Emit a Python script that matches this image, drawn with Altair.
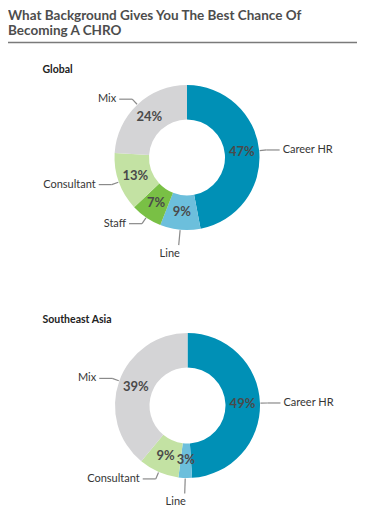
import altair as alt
import pandas as pd

# ---- data ----
title_lines = ["What Background Gives You The Best Chance Of", "Becoming A CHRO"]
panel_titles = ["Global", "Southeast Asia"]

global_categories = ["Career HR", "Line", "Staff", "Consultant", "Mix"]
global_values = [47, 9, 7, 13, 24]

sea_categories = ["Career HR", "Line", "Consultant", "Mix"]
sea_values = [49, 3, 9, 39]

color_domain = ["Career HR", "Line", "Staff", "Consultant", "Mix"]
color_range = ["#0090b6", "#6cbfdc", "#79c045", "#c3e2a3", "#d4d4d6"]

FONT = "Lato"
OY = 8  # top padding inside the svg
W, H = 350, 514 - OY
R_IN, R_OUT = 38, 72.5
R_TXT = 55


def donut(categories, values, cx, cy):
    cy = cy - OY
    df = pd.DataFrame({"category": categories, "value": values,
                       "idx": list(range(len(values)))})
    base = (
        alt.Chart(df)
        .transform_joinaggregate(total="sum(value)")
        .transform_window(cum="sum(value)", sort=[alt.SortField("idx")], frame=[None, 0])
        .transform_calculate(
            t0="2*PI*(datum.cum-datum.value)/datum.total",
            t1="2*PI*datum.cum/datum.total",
            mid="(datum.t0+datum.t1)/2",
            s="sin(datum.mid)",
            c="cos(datum.mid)",
            bottom="abs(datum.s) < 0.35 && datum.c < 0",
            rb="datum.bottom ? 88 : 80",
            ax=f"{cx} + 73*datum.s",
            ay=f"{cy} - 73*datum.c",
            bx=f"{cx} + datum.rb*datum.s",
            by=f"{cy} - datum.rb*datum.c",
            ex="datum.bottom ? datum.bx : datum.bx + (datum.s > 0 ? 13 : -13)",
            ey="datum.by",
            lx="datum.bottom ? datum.bx - 9 : datum.ex + (datum.s > 0 ? 3 : -3)",
            ly="datum.bottom ? datum.by + 3 : datum.ey",
            px=f"{cx} + {R_TXT}*datum.s",
            py=f"{cy} - {R_TXT}*datum.c",
            pct="datum.value + '%'",
        )
    )
    arcs = base.mark_arc(innerRadius=R_IN, outerRadius=R_OUT).encode(
        theta=alt.Theta("t0:Q", scale=None),
        theta2=alt.Theta2("t1:Q"),
        color=alt.Color("category:N", scale=alt.Scale(domain=color_domain, range=color_range),
                        legend=None),
        x=alt.value(cx),
        y=alt.value(cy),
    )
    pct = base.mark_text(font=FONT, fontSize=13, fontWeight="bold", color="#4a4a4a",
                         align="center", baseline="middle").encode(
        x=alt.X("px:Q", scale=None, axis=None),
        y=alt.Y("py:Q", scale=None, axis=None),
        text="pct:N",
    )
    lead1 = base.mark_rule(color="#8a8a8a", strokeWidth=1.2).encode(
        x=alt.X("ax:Q", scale=None, axis=None), y=alt.Y("ay:Q", scale=None, axis=None),
        x2="bx:Q", y2="by:Q",
    )
    lead2 = base.mark_rule(color="#8a8a8a", strokeWidth=1.2).encode(
        x=alt.X("bx:Q", scale=None, axis=None), y=alt.Y("by:Q", scale=None, axis=None),
        x2="ex:Q", y2="ey:Q",
    )
    lab_kw = dict(font=FONT, fontSize=11, color="#363636")
    enc = dict(x=alt.X("lx:Q", scale=None, axis=None), y=alt.Y("ly:Q", scale=None, axis=None),
               text="category:N")
    lab_r = base.transform_filter("!datum.bottom && datum.s > 0").mark_text(
        align="left", baseline="middle", **lab_kw).encode(**enc)
    lab_l = base.transform_filter("!datum.bottom && datum.s <= 0").mark_text(
        align="right", baseline="middle", **lab_kw).encode(**enc)
    lab_b = base.transform_filter("datum.bottom").mark_text(
        align="center", baseline="top", **lab_kw).encode(**enc)
    return [arcs, pct, lead1, lead2, lab_r, lab_l, lab_b]


def text_layer(txt, x, y, size, weight, color):
    return alt.Chart(pd.DataFrame({"t": [txt]})).mark_text(
        font=FONT, fontSize=size, fontWeight=weight, color=color,
        align="left", baseline="alphabetic").encode(
        text="t:N", x=alt.value(x), y=alt.value(y - OY))


layers = []
layers.append(text_layer(title_lines[0], 0, 12, 13.5, "bold", "#4d4d4d"))
layers.append(text_layer(title_lines[1], 0, 27, 13.5, "bold", "#4d4d4d"))
layers.append(alt.Chart(pd.DataFrame({"a": [0]})).mark_rule(color="#7a7a7a", strokeWidth=1.5).encode(
    x=alt.value(0), x2=alt.value(349), y=alt.value(34.5 - OY)))
layers.append(text_layer(panel_titles[0], 34.5, 65, 10.5, "bold", "#222222"))
layers.append(text_layer(panel_titles[1], 34.5, 314.5, 10.5, "bold", "#222222"))
layers += donut(global_categories, global_values, 179, 149.5)
layers += donut(sea_categories, sea_values, 179.5, 397.5)

chart = (
    alt.layer(*layers)
    .properties(width=W, height=H, autosize="none",
                padding={"left": 0, "top": OY, "right": 0, "bottom": 0})
    .configure_view(stroke=None)
)

chart.save("out.html", embed_options={"renderer": "svg", "actions": False})
